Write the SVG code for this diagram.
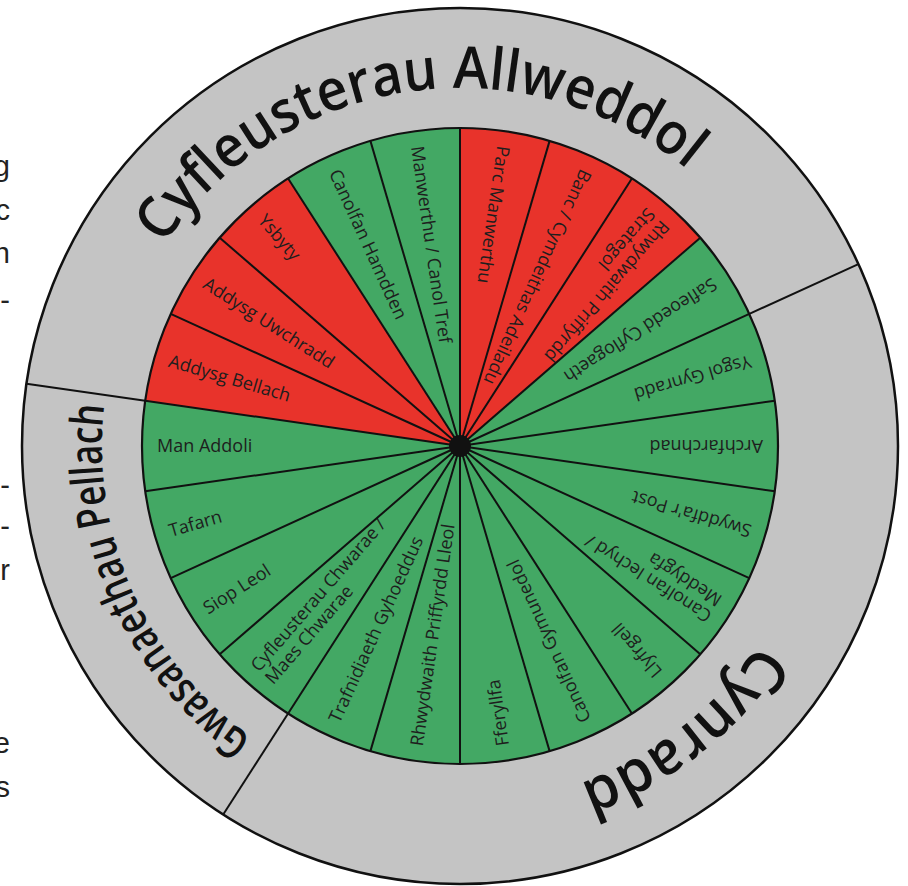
<svg xmlns="http://www.w3.org/2000/svg" width="908" height="886" viewBox="0 0 908 886">
<style>
.ring{fill:#c4c4c4;stroke:#111;stroke-width:2.5}
.g{fill:#43a864}
.r{fill:#e8332b}
.inner{fill:none;stroke:#111;stroke-width:2.2}
.spoke{stroke:#111;stroke-width:2}
.lbl{font-family:'Open Sans','Noto Sans',sans-serif;font-size:18px;fill:#1e1e1e}
.title{font-family:'Open Sans','Noto Sans',sans-serif;font-weight:600;fill:#111}
.stray{font-family:'Liberation Sans',Arial,sans-serif;font-size:29px;fill:#222;text-anchor:end}
</style>
<defs>
<path id="arcTop" d="M102.2 434.8 A358 358 0 0 1 800.1 334.2"/>
<path id="arcCyn" d="M776.1 277.9 A358 358 0 0 1 220.5 712"/>
<path id="arcGwa" d="M546.6 793.4 A358 358 0 0 1 259.8 149.2"/>
</defs>
<g id="margin-text">
<text class="stray" x="10" y="176">g</text>
<text class="stray" x="10" y="220">c</text>
<text class="stray" x="10" y="263">n</text>
<text class="stray" x="10" y="310">-</text>
<text class="stray" x="10" y="495">-</text>
<text class="stray" x="10" y="536">-</text>
<text class="stray" x="10" y="580">r</text>
<text class="stray" x="10" y="753">e</text>
<text class="stray" x="10" y="797">s</text>
</g>
<g id="outer-ring"><circle class="ring" cx="460" cy="446" r="438"/></g>
<g id="section-cyfleusterau-allweddol">
<text class="title" font-size="58"><textPath href="#arcTop" startOffset="50%" text-anchor="middle" textLength="595" lengthAdjust="spacingAndGlyphs">Cyfleusterau Allweddol</textPath></text>
</g>
<g id="section-cynradd">
<text class="title" font-size="60"><textPath href="#arcCyn" startOffset="50%" text-anchor="middle" textLength="232" lengthAdjust="spacingAndGlyphs">Cynradd</textPath></text>
</g>
<g id="section-gwasanaethau-pellach">
<text class="title" font-size="45"><textPath href="#arcGwa" startOffset="50%" text-anchor="middle" textLength="382" lengthAdjust="spacingAndGlyphs">Gwasanaethau Pellach</textPath></text>
</g>
<g id="seg-parc-manwerthu"><path class="r" d="M460 446 L460 128 A318 318 0 0 1 549.6 140.9 Z"/><text class="lbl" transform="translate(460 446) rotate(98.18)" x="-303" y="6">Parc Manwerthu</text></g>
<g id="seg-banc"><path class="r" d="M460 446 L549.6 140.9 A318 318 0 0 1 631.9 178.5 Z"/><text class="lbl" transform="translate(460 446) rotate(114.55)" x="-303" y="6">Banc / Cymdeithas Adeiladu</text></g>
<g id="seg-rhwydwaith-strategol"><path class="r" d="M460 446 L631.9 178.5 A318 318 0 0 1 700.3 237.7 Z"/><text class="lbl" transform="translate(460 446) rotate(130.91)"><tspan x="-303" y="-3.5">Rhwydwaith Priffyrdd</tspan><tspan x="-303" y="15.5">Strategol</tspan></text></g>
<g id="seg-safleoedd"><path class="g" d="M460 446 L700.3 237.7 A318 318 0 0 1 749.3 313.9 Z"/><text class="lbl" transform="translate(460 446) rotate(147.27)" x="-303" y="6">Safleoedd Cyflogaeth</text></g>
<g id="seg-ysgol-gynradd"><path class="g" d="M460 446 L749.3 313.9 A318 318 0 0 1 774.8 400.7 Z"/><text class="lbl" transform="translate(460 446) rotate(163.64)" x="-303" y="6">Ysgol Gynradd</text></g>
<g id="seg-archfarchnad"><path class="g" d="M460 446 L774.8 400.7 A318 318 0 0 1 774.8 491.3 Z"/><text class="lbl" transform="translate(460 446) rotate(180)" x="-303" y="6">Archfarchnad</text></g>
<g id="seg-swyddfa"><path class="g" d="M460 446 L774.8 491.3 A318 318 0 0 1 749.3 578.1 Z"/><text class="lbl" transform="translate(460 446) rotate(196.36)" x="-303" y="6">Swyddfa'r Post</text></g>
<g id="seg-canolfan-iechyd"><path class="g" d="M460 446 L749.3 578.1 A318 318 0 0 1 700.3 654.3 Z"/><text class="lbl" transform="translate(460 446) rotate(212.73)"><tspan x="-303" y="-3.5">Canolfan Iechyd /</tspan><tspan x="-303" y="15.5">Meddygfa</tspan></text></g>
<g id="seg-llyfrgell"><path class="g" d="M460 446 L700.3 654.3 A318 318 0 0 1 631.9 713.5 Z"/><text class="lbl" transform="translate(460 446) rotate(229.09)" x="-303" y="6">Llyfrgell</text></g>
<g id="seg-canolfan-gymunedol"><path class="g" d="M460 446 L631.9 713.5 A318 318 0 0 1 549.6 751.1 Z"/><text class="lbl" transform="translate(460 446) rotate(245.45)" x="-303" y="6">Canolfan Gymunedol</text></g>
<g id="seg-fferyllfa"><path class="g" d="M460 446 L549.6 751.1 A318 318 0 0 1 460 764 Z"/><text class="lbl" transform="translate(460 446) rotate(261.82)" x="-303" y="6">Fferyllfa</text></g>
<g id="seg-rhwydwaith-lleol"><path class="g" d="M460 446 L460 764 A318 318 0 0 1 370.4 751.1 Z"/><text class="lbl" transform="translate(460 446) rotate(278.18)" x="-303" y="6">Rhwydwaith Priffyrdd Lleol</text></g>
<g id="seg-trafnidiaeth"><path class="g" d="M460 446 L370.4 751.1 A318 318 0 0 1 288.1 713.5 Z"/><text class="lbl" transform="translate(460 446) rotate(294.55)" x="-303" y="6">Trafnidiaeth Gyhoeddus</text></g>
<g id="seg-cyfleusterau-chwarae"><path class="g" d="M460 446 L288.1 713.5 A318 318 0 0 1 219.7 654.3 Z"/><text class="lbl" transform="translate(460 446) rotate(310.91)"><tspan x="-303" y="-3.5">Cyfleusterau Chwarae /</tspan><tspan x="-303" y="15.5">Maes Chwarae</tspan></text></g>
<g id="seg-siop-leol"><path class="g" d="M460 446 L219.7 654.3 A318 318 0 0 1 170.7 578.1 Z"/><text class="lbl" transform="translate(460 446) rotate(327.27)" x="-303" y="6">Siop Leol</text></g>
<g id="seg-tafarn"><path class="g" d="M460 446 L170.7 578.1 A318 318 0 0 1 145.2 491.3 Z"/><text class="lbl" transform="translate(460 446) rotate(343.64)" x="-303" y="6">Tafarn</text></g>
<g id="seg-man-addoli"><path class="g" d="M460 446 L145.2 491.3 A318 318 0 0 1 145.2 400.7 Z"/><text class="lbl" transform="translate(460 446)" x="-303" y="6">Man Addoli</text></g>
<g id="seg-addysg-bellach"><path class="r" d="M460 446 L145.2 400.7 A318 318 0 0 1 170.7 313.9 Z"/><text class="lbl" transform="translate(460 446) rotate(16.36)" x="-303" y="6">Addysg Bellach</text></g>
<g id="seg-addysg-uwchradd"><path class="r" d="M460 446 L170.7 313.9 A318 318 0 0 1 219.7 237.7 Z"/><text class="lbl" transform="translate(460 446) rotate(32.73)" x="-303" y="6">Addysg Uwchradd</text></g>
<g id="seg-ysbyty"><path class="r" d="M460 446 L219.7 237.7 A318 318 0 0 1 288.1 178.5 Z"/><text class="lbl" transform="translate(460 446) rotate(49.09)" x="-303" y="6">Ysbyty</text></g>
<g id="seg-canolfan-hamdden"><path class="g" d="M460 446 L288.1 178.5 A318 318 0 0 1 370.4 140.9 Z"/><text class="lbl" transform="translate(460 446) rotate(65.45)" x="-303" y="6">Canolfan Hamdden</text></g>
<g id="seg-manwerthu-canol-tref"><path class="g" d="M460 446 L370.4 140.9 A318 318 0 0 1 460 128 Z"/><text class="lbl" transform="translate(460 446) rotate(81.82)" x="-303" y="6">Manwerthu / Canol Tref</text></g>
<g id="connectors">
<g class="spoke">
<line x1="460" y1="446" x2="460" y2="128"/>
<line x1="460" y1="446" x2="549.6" y2="140.9"/>
<line x1="460" y1="446" x2="631.9" y2="178.5"/>
<line x1="460" y1="446" x2="700.3" y2="237.7"/>
<line x1="460" y1="446" x2="749.3" y2="313.9"/>
<line x1="460" y1="446" x2="774.8" y2="400.7"/>
<line x1="460" y1="446" x2="774.8" y2="491.3"/>
<line x1="460" y1="446" x2="749.3" y2="578.1"/>
<line x1="460" y1="446" x2="700.3" y2="654.3"/>
<line x1="460" y1="446" x2="631.9" y2="713.5"/>
<line x1="460" y1="446" x2="549.6" y2="751.1"/>
<line x1="460" y1="446" x2="460" y2="764"/>
<line x1="460" y1="446" x2="370.4" y2="751.1"/>
<line x1="460" y1="446" x2="288.1" y2="713.5"/>
<line x1="460" y1="446" x2="219.7" y2="654.3"/>
<line x1="460" y1="446" x2="170.7" y2="578.1"/>
<line x1="460" y1="446" x2="145.2" y2="491.3"/>
<line x1="460" y1="446" x2="145.2" y2="400.7"/>
<line x1="460" y1="446" x2="170.7" y2="313.9"/>
<line x1="460" y1="446" x2="219.7" y2="237.7"/>
<line x1="460" y1="446" x2="288.1" y2="178.5"/>
<line x1="460" y1="446" x2="370.4" y2="140.9"/>
<line x1="749.3" y1="313.9" x2="858.4" y2="264.1"/>
<line x1="288.1" y1="713.5" x2="223.2" y2="814.5"/>
<line x1="145.2" y1="400.7" x2="26.5" y2="383.7"/>
</g>
<circle class="inner" cx="460" cy="446" r="318"/>
<circle cx="460" cy="446" r="11" fill="#111"/>
</g>
</svg>
